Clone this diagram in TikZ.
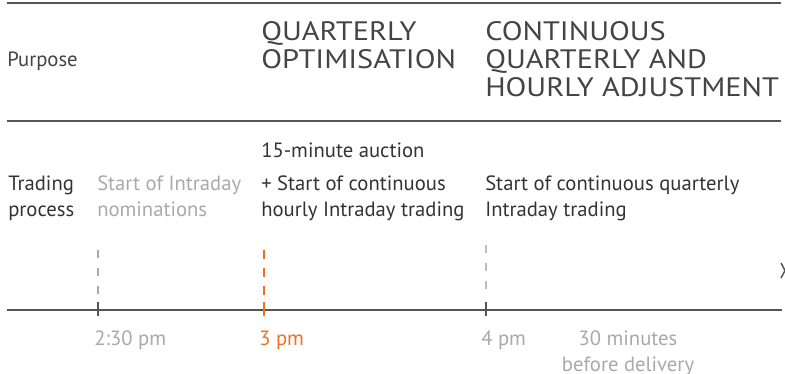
\documentclass[tikz,border=0pt]{standalone}
\usepackage{fontspec}
\setmainfont{PT Sans}
\newfontfamily\headfamily[FakeStretch=1.14]{PT Sans}
\usepackage{tikz}

\definecolor{ruleGray}{HTML}{555555}
\definecolor{headGray}{HTML}{444444}
\definecolor{textDark}{HTML}{333333}
\definecolor{textLight}{HTML}{A7A9AC}
\definecolor{dashLight}{HTML}{BDBDBF}
\definecolor{tickOrange}{HTML}{F26F21}

\newcommand\bodyfont{\fontsize{15.5}{19.5}\selectfont}
\newcommand\headfont{\headfamily\fontsize{20}{21.2}\selectfont}

\tikzset{
  rule/.style={draw=ruleGray, line width=1.3pt},
  tick/.style={draw=ruleGray, line width=1.2pt},
  txt/.style={anchor=base west, inner sep=0pt, align=left, font=\bodyfont, text=textDark},
  dimtxt/.style={txt, text=textLight},
  headtxt/.style={anchor=base west, inner sep=0pt, align=left, font=\headfont, text=headGray}
}

\begin{document}
\begin{tikzpicture}[x=0.75pt,y=0.75pt,yscale=-1,xscale=1]
\useasboundingbox (0,0) rectangle (785,374);

%Straight Lines [id:top]
\coordinate (topL) at (7,3);
\coordinate (topR) at (781,3);
\draw [rule] (topL) -- (topR);
%Straight Lines [id:mid]
\coordinate (midL) at (7,121);
\coordinate (midR) at (781,121);
\draw [rule] (midL) -- (midR);
%Straight Lines [id:axis]
\coordinate (axisL) at (7,310);
\coordinate (axisR) at (782,310);
\draw [rule, line width=1.5pt] (axisL) -- (axisR);

% ticks on the axis
\coordinate (tA) at (98,310);
\coordinate (tB) at (264,310);
\coordinate (tC) at (486,310);
\draw [tick] (tA) ++(0,-8) -- ++(0,14);
\draw [tick, draw=tickOrange] (tB) ++(0,-8) -- ++(0,14);
\draw [tick] (tC) ++(0,-8) -- ++(0,14);

% dashed markers
\draw [draw=textLight, line width=1.5pt, dash pattern=on 6pt off 7.5pt] (tA) ++(0,-60) -- ++(0,44);
\draw [draw=tickOrange, line width=1.5pt, dash pattern=on 6.5pt off 7pt] (tB) ++(0,-60) -- ++(0,47);
\draw [draw=dashLight, line width=0.9pt, dash pattern=on 6pt off 7.5pt] (tC) ++(0,-65) -- ++(0,44);

% cut-off mark at the right edge
\draw [draw=ruleGray, line width=1.1pt] (781,263) -- (785,270.5) -- (781,278);

% Text Node (multi-line nodes sit on their last baseline)
\node (purpose) [txt, text=headGray] at (7,67) {Purpose};
% Text Node
\node (quarterly) [headtxt] at (261,68.3) {QUARTERLY\\OPTIMISATION};
% Text Node
\node (continuous) [headtxt] at (485,96.7) {CONTINUOUS\\QUARTERLY AND\\HOURLY ADJUSTMENT};

% Text Node
\node (trading) [txt] at (8,216.7) {Trading\\process};
% Text Node
\node (nominations) [dimtxt] at (97,216.7) {Start of Intraday\\nominations};
% Text Node
\node (auction) [txt] at (261,158) {15-minute auction};
% Text Node
\node (hourly) [txt] at (261,216.7) {+ Start of continuous\\hourly Intraday trading};
% Text Node
\node (quarterlyTrade) [txt] at (485,216.7) {Start of continuous quarterly\\Intraday trading};

% Text Node
\node (lblA) [dimtxt] at (94,345) {2:30 pm};
% Text Node
\node (lblB) [txt, text=tickOrange] at (259,345) {3 pm};
% Text Node
\node (lblC) [dimtxt] at (481,345) {4 pm};
% Text Node
\node (lblD) [dimtxt, anchor=base, align=center] at (628,371) {30 minutes\\before delivery};

\end{tikzpicture}
\end{document}
